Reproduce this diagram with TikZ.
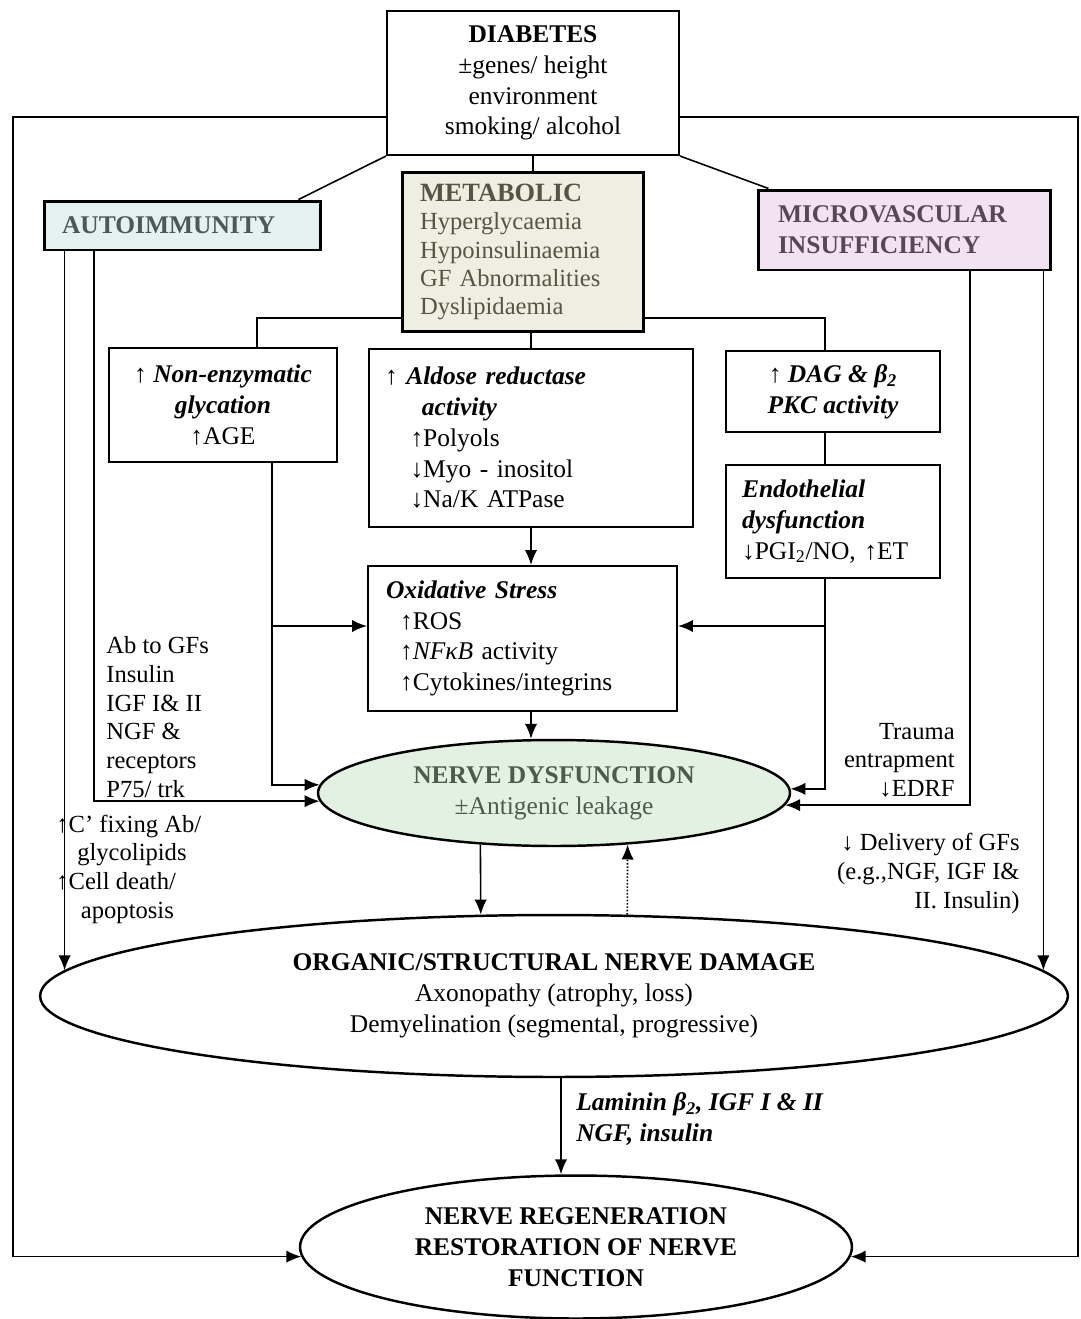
\documentclass[tikz,border=0pt]{standalone}
\usepackage{fontspec}
\setmainfont{Liberation Serif}
\usepackage{tikz}
\usetikzlibrary{shapes,arrows.meta}

\definecolor{autofill}{HTML}{E3F1F1}
\definecolor{metafill}{HTML}{EFEFE1}
\definecolor{microfill}{HTML}{F1E3F1}
\definecolor{ndfill}{HTML}{E3F1E3}
\definecolor{autotext}{HTML}{4A5858}
\definecolor{metatext}{HTML}{555546}
\definecolor{microtext}{HTML}{574857}
\definecolor{ndtext}{HTML}{4C5C4C}

\begin{document}
\begin{tikzpicture}[x=0.02cm,y=-0.02cm,>={Latex[length=8.5pt,width=7pt]},
  every node/.style={font=\fontsize{14.5}{17.5}\selectfont,inner sep=0pt},
  blk/.style={draw,line width=1.2pt,align=center},
  lblk/.style={blk,align=left},
  colblk/.style={draw,line width=1.7pt,align=left},
  oval/.style={draw,ellipse,line width=1.4pt,align=center},
  lbl/.style={font=\fontsize{14}{16.3}\selectfont},
  conn/.style={line width=0.9pt}
]
\path[use as bounding box,fill=white] (0,0) rectangle (1080,1319);

\node[blk,minimum width=5.84cm,minimum height=2.88cm] (diab) at (533,83) {\textbf{DIABETES}\\±genes/ height\\environment\\smoking/ alcohol};
\node[colblk,fill=autofill,text=autotext,minimum width=5.54cm,minimum height=0.98cm,text width=4.82cm,inner xsep=0.36cm] (auto) at (182.5,225.5) {\textbf{AUTOIMMUNITY}};
\node[colblk,fill=metafill,text=metatext,minimum width=4.84cm,minimum height=3.2cm,text width=4.12cm,inner xsep=0.36cm,font=\fontsize{14}{16}\selectfont] (meta) at (523,252) {{\fontsize{15}{16}\selectfont\bfseries METABOLIC}\\Hyperglycaemia\\Hypoinsulinaemia\\GF Abnormalities\\Dyslipidaemia};
\node[colblk,fill=microfill,text=microtext,minimum width=5.86cm,minimum height=1.6cm,text width=5.06cm,inner xsep=0.4cm] (micro) at (904.5,230) {\textbf{MICROVASCULAR}\\\textbf{INSUFFICIENCY}};

\node[blk,minimum width=4.56cm,minimum height=2.28cm] (nonenz) at (223,405) {↑ \textbf{\textit{Non-enzymatic}}\\\textbf{\textit{glycation}}\\↑AGE};
\node[lblk,minimum width=6.48cm,minimum height=3.56cm,text width=5.84cm,inner xsep=0.32cm] (aldose) at (531,438) {↑ \textbf{\textit{Aldose reductase}}\\\hspace*{1.45em}\textbf{\textit{activity}}\\\hspace*{1em}↑Polyols\\\hspace*{1em}↓Myo - inositol\\\hspace*{1em}↓Na/K ATPase};
\node[blk,minimum width=4.28cm,minimum height=1.62cm] (dag) at (833,391.5) {↑ \textbf{\textit{DAG \& β\textsubscript{2}}}\\\textbf{\textit{PKC activity}}};
\node[lblk,minimum width=4.28cm,minimum height=2.26cm,text width=3.64cm,inner xsep=0.32cm] (endo) at (833,521.5) {\textbf{\textit{Endothelial}}\\\textbf{\textit{dysfunction}}\\↓PGI\textsubscript{2}/NO, ↑ET};
\node[lblk,minimum width=6.18cm,minimum height=2.9cm,text width=5.46cm,inner xsep=0.36cm] (oxid) at (522.5,638.5) {\textbf{\textit{Oxidative Stress}}\\\hspace*{0.55em}↑ROS\\\hspace*{0.55em}↑\textit{NFκB} activity\\\hspace*{0.55em}↑Cytokines/integrins};

\node[oval,fill=ndfill,text=ndtext,minimum width=9.44cm,minimum height=2.12cm] (nd) at (554,793) {\textbf{NERVE DYSFUNCTION}\\±Antigenic leakage};
\node[oval,minimum width=20.56cm,minimum height=3.24cm] (org) at (554,996) {\textbf{ORGANIC/STRUCTURAL NERVE DAMAGE}\\Axonopathy (atrophy, loss)\\Demyelination (segmental, progressive)};
\node[oval,minimum width=11.04cm,minimum height=2.86cm] (regen) at (576,1247) {\textbf{NERVE REGENERATION}\\\textbf{RESTORATION OF NERVE}\\\textbf{FUNCTION}};

\node[lbl,align=left,anchor=west] (ablbl) at (106,717) {Ab to GFs\\Insulin\\IGF I\& II\\NGF \&\\receptors\\P75/ trk};
\node[lbl,align=left,anchor=west] (cflbl) at (56,869) {↑C’ fixing Ab/\\\hspace*{0.85em}glycolipids\\↑Cell death/\\\hspace*{1em}apoptosis};
\node[lbl,align=right,anchor=east] (trlbl) at (955,760) {Trauma\\entrapment\\↓EDRF};
\node[lbl,align=right,anchor=east] (gflbl) at (1020,873.5) {↓ Delivery of GFs\\(e.g.,NGF, IGF I\&\\II. Insulin)};
\node[align=left,anchor=west] (lamlbl) at (576,1119) {\textbf{\textit{Laminin β\textsubscript{2}, IGF I \& II}}\\\textbf{\textit{NGF, insulin}}};

\coordinate (xl) at (13,117);
\coordinate (xr) at (1078,117);
\coordinate (hl) at (257,318);
\coordinate (hr) at (825,318);
\coordinate (ne) at (272,626);
\coordinate (en) at (825,626);
\coordinate (au) at (94,0);
\coordinate (mi) at (970,0);
\coordinate (og) at (561,0);

\draw[conn,->] (diab.west |- xl) -- (xl) |- (regen.182);
\draw[conn,->] (diab.east |- xr) -- (xr) |- (regen.-2);
\draw[conn] (diab.south west) -- ([xshift=-0.48cm]auto.north east);
\draw[conn] (diab.south east) -- ([xshift=0.24cm]micro.north west);
\draw[conn] (diab.south) -- (diab.south |- meta.north);
\draw[conn] (meta.west |- hl) -- (hl) -- (hl |- nonenz.north);
\draw[conn] (meta.east |- hr) -- (hr) -- (hr |- dag.north);
\draw[conn] (aldose.north |- meta.south) -- (aldose.north);
\draw[conn] (hr |- dag.south) -- (hr |- endo.north);
\draw[conn,->] (aldose.south) -- (aldose.south |- oxid.north);
\draw[conn,->] (aldose.south |- oxid.south) -- (aldose.south |- nd.north);
\draw[conn,->] (ne |- nonenz.south) -- (ne |- nd.178) -- (nd.178);
\draw[conn,->] (ne) -- (ne -| oxid.west);
\draw[conn,->] (en |- endo.south) -- (en |- nd.1) -- (nd.1);
\draw[conn,->] (en) -- (en -| oxid.east);
\draw[conn,->] (au |- auto.south) -- (au |- nd.182) -- (nd.182);
\draw[conn,->] (auto.south -| org.177.3) -- (org.177.3);
\draw[conn,->] (mi |- micro.south) -- (mi |- nd.-3) -- (nd.-3);
\draw[conn,->] (micro.south -| org.3.5) -- (org.3.5);
\draw[conn,->] (nd.215) -- (org.132);
\draw[conn,->,densely dotted] (org.48) -- (nd.325);
\draw[conn,->] (og |- org.south) -- (og |- regen.north);
\end{tikzpicture}
\end{document}
